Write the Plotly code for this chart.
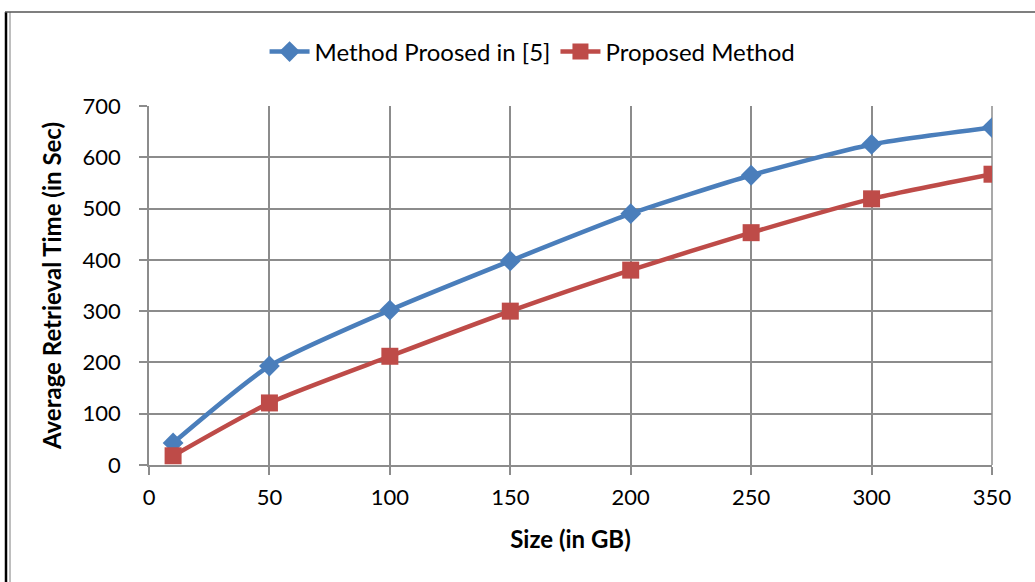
import plotly.graph_objects as go

sizes = [10, 50, 100, 150, 200, 250, 300, 350]
method_5 = [43, 193, 302, 398, 490, 565, 625, 658]
proposed = [18, 121, 212, 300, 380, 453, 519, 567]
x_ticks = [0, 50, 100, 150, 200, 250, 300, 350]
y_ticks = [0, 100, 200, 300, 400, 500, 600, 700]

FONT = "Lato, Carlito, 'Open Sans', sans-serif"
GRID = "#8c8c8c"

fig = go.Figure()
fig.add_trace(go.Scatter(
    x=sizes, y=method_5, name="Method Proosed in [5]", mode="lines+markers",
    line=dict(color="#4A7EBB", width=4.5, shape="spline", smoothing=0.6),
    marker=dict(symbol="diamond", size=16, color="#4A7EBB"),
))
fig.add_trace(go.Scatter(
    x=sizes, y=proposed, name="Proposed Method", mode="lines+markers",
    line=dict(color="#BE4B48", width=4.5, shape="spline", smoothing=0.6),
    marker=dict(symbol="square", size=17, color="#BE4B48"),
))

L, R, T, B = 149, 43, 106, 117
W, H = 1035, 582
pw, ph = W - L - R, H - T - B

def px(x):
    return (x - L) / pw

def py(y):
    return (H - B - y) / ph

shapes = [
    dict(type="line", xref="paper", yref="paper", x0=px(6), x1=px(6), y0=py(12), y1=py(600),
         line=dict(color="black", width=2.5)),
    dict(type="line", xref="paper", yref="paper", x0=px(10), x1=px(10), y0=py(12), y1=py(600),
         line=dict(color="#7f7f7f", width=1)),
    dict(type="line", xref="paper", yref="paper", x0=px(5), x1=px(1040), y0=py(12), y1=py(12),
         line=dict(color="#555555", width=1.5)),
    dict(type="line", xref="paper", yref="paper", x0=1, x1=1, y0=0, y1=1,
         line=dict(color=GRID, width=1.5), layer="below"),
]

fig.update_layout(
    width=W, height=H,
    margin=dict(l=L, r=R, t=T, b=B),
    paper_bgcolor="white", plot_bgcolor="white",
    font=dict(family=FONT, size=22, color="black"),
    shapes=shapes,
    legend=dict(orientation="h", x=0.455, y=py(52), xanchor="center", yanchor="middle",
                font=dict(size=24), itemwidth=40, tracegroupgap=0),
    showlegend=True,
)
fig.update_xaxes(
    range=[0, 350], tickvals=x_ticks, ticktext=[str(v) for v in x_ticks],
    tickfont=dict(size=22), ticklabelstandoff=4,
    showgrid=True, gridcolor=GRID, gridwidth=1.5,
    showline=True, linecolor=GRID, linewidth=1.5, mirror=False,
    ticks="outside", ticklen=8, tickcolor=GRID, tickwidth=1.5,
    zeroline=False,
    title=dict(text="<b>Size (in GB)</b>", font=dict(size=24), standoff=22),
)
fig.update_yaxes(
    range=[0, 700], tickvals=y_ticks, ticktext=[str(v) for v in y_ticks],
    tickfont=dict(size=22), ticklabelstandoff=14,
    showgrid=True, gridcolor=GRID, gridwidth=1.5,
    showline=True, linecolor=GRID, linewidth=1.5,
    ticks="outside", ticklen=8, tickcolor=GRID, tickwidth=1.5,
    zeroline=False,
    title=dict(text="<b>Average Retrieval Time (in Sec)</b>", font=dict(size=24), standoff=14),
)

fig.write_html("out.html")
